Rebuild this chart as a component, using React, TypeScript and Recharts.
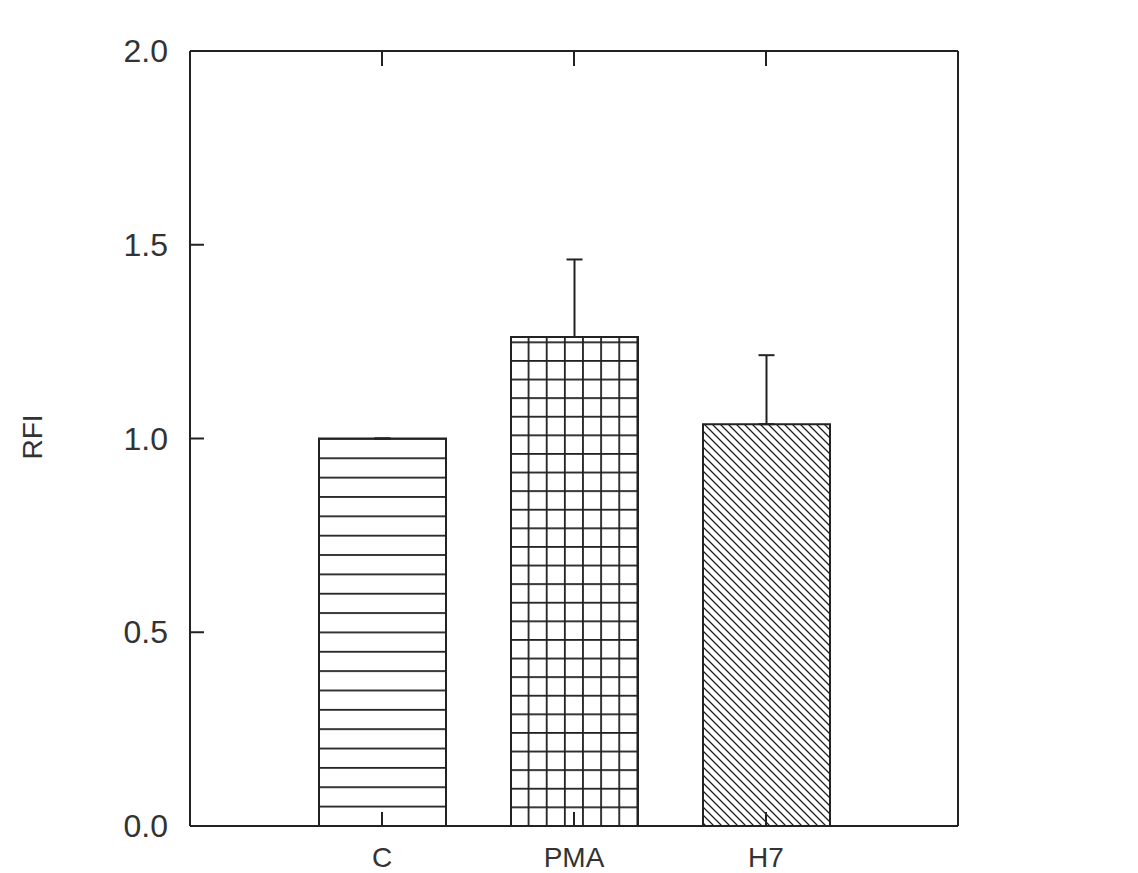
import React from 'react';
import { BarChart, Bar, XAxis, YAxis, ErrorBar, Cell } from 'recharts';

const categories = ['C', 'PMA', 'H7'];
const values = [1.0, 1.262, 1.037];
const errors: [number, number][] = [[0, 0], [0, 0.2], [0, 0.178]];
const yTicks = [0, 0.5, 1.0, 1.5, 2.0];
const patterns = ['url(#hlines)', 'url(#grid)', 'url(#diag)'];

const data = categories.map((name, i) => ({ name, value: values[i], err: errors[i] }));

const INK = '#222';
const FONT = '"Liberation Sans", Arial, sans-serif';

const LeftTick = (props: any) => {
  const { x, y, payload } = props;
  return (
    <g>
      <text x={x - 22} y={y} dy={11} textAnchor="end" fontSize={32} fontFamily={FONT} fill="#333">
        {Number(payload.value).toFixed(1)}
      </text>
      <line x1={x} x2={x + 14} y1={y} y2={y} stroke={INK} strokeWidth={2} />
    </g>
  );
};

const RightTick = (props: any) => {
  const { x, y } = props;
  return <line x1={x - 15} x2={x} y1={y} y2={y} stroke={INK} strokeWidth={2} />;
};

const BottomTick = (props: any) => {
  const { x, y, payload } = props;
  return (
    <g>
      <line x1={x} x2={x} y1={y} y2={y - 14} stroke={INK} strokeWidth={2} />
      <text x={x} y={y + 41} textAnchor="middle" fontSize={28} fontFamily={FONT} fill="#333">
        {payload.value}
      </text>
    </g>
  );
};

const TopTick = (props: any) => {
  const { x, y } = props;
  return <line x1={x} x2={x} y1={y} y2={y + 15} stroke={INK} strokeWidth={2} />;
};

export default function App() {
  return (
    <div style={{ position: 'absolute', left: 0, top: 0, width: 1138, height: 873, background: '#fff' }}>
      <svg width={0} height={0} style={{ position: 'absolute' }}>
        <defs>
          <pattern id="hlines" patternUnits="userSpaceOnUse" x={0} y={825} width={20} height={19.35}>
            <rect x={0} y={0} width={20} height={19.35} fill="#fff" />
            <rect x={0} y={0} width={20} height={1.8} fill={INK} />
          </pattern>
          <pattern id="grid" patternUnits="userSpaceOnUse" x={509.5} y={825} width={18.14} height={18.6}>
            <rect x={0} y={0} width={18.14} height={18.6} fill="#fff" />
            <rect x={0} y={0} width={18.14} height={1.8} fill={INK} />
            <rect x={0} y={0} width={1.8} height={18.6} fill={INK} />
          </pattern>
          <pattern id="diag" patternUnits="userSpaceOnUse" x={0} y={0} width={8} height={8}>
            <rect x={0} y={0} width={8} height={8} fill="#fff" />
            <path d="M-1,-1 L9,9 M-3,5 L3,11 M5,-3 L11,3" stroke={INK} strokeWidth={1.3} />
          </pattern>
        </defs>
      </svg>
      <BarChart
        width={1138}
        height={873}
        data={data}
        margin={{ top: 0, right: 0, bottom: 0, left: 0 }}
        barSize={127}
      >
        <XAxis
          dataKey="name"
          xAxisId="bottom"
          orientation="bottom"
          height={47}
          padding={{ left: 96, right: 96 }}
          axisLine={{ stroke: INK, strokeWidth: 2 }}
          tickLine={false}
          tickSize={0}
          tickMargin={0}
          tick={<BottomTick />}
          interval={0}
        />
        <XAxis
          dataKey="name"
          xAxisId="top"
          orientation="top"
          height={51}
          padding={{ left: 96, right: 96 }}
          axisLine={{ stroke: INK, strokeWidth: 2 }}
          tickLine={false}
          tickSize={0}
          tickMargin={0}
          tick={<TopTick />}
          interval={0}
        />
        <YAxis
          yAxisId="left"
          orientation="left"
          width={190}
          domain={[0, 2]}
          ticks={yTicks}
          type="number"
          axisLine={{ stroke: INK, strokeWidth: 2 }}
          tickLine={false}
          tickSize={0}
          tickMargin={0}
          tick={<LeftTick />}
          interval={0}
          label={{
            content: () => (
              <text
                x={42}
                y={437}
                transform="rotate(-90 42 437)"
                textAnchor="middle"
                fontSize={28}
                fontFamily={FONT}
                fill="#333"
              >
                RFI
              </text>
            ),
          }}
        />
        <YAxis
          yAxisId="right"
          orientation="right"
          width={180}
          domain={[0, 2]}
          ticks={yTicks}
          type="number"
          axisLine={{ stroke: INK, strokeWidth: 2 }}
          tickLine={false}
          tickSize={0}
          tickMargin={0}
          tick={<RightTick />}
          interval={0}
        />
        <Bar
          dataKey="value"
          xAxisId="bottom"
          yAxisId="left"
          stroke={INK}
          strokeWidth={2}
          isAnimationActive={false}
        >
          {data.map((d, i) => (
            <Cell key={d.name} fill={patterns[i]} />
          ))}
          <ErrorBar dataKey="err" width={8} stroke={INK} strokeWidth={2} direction="y" />
        </Bar>
      </BarChart>
    </div>
  );
}
